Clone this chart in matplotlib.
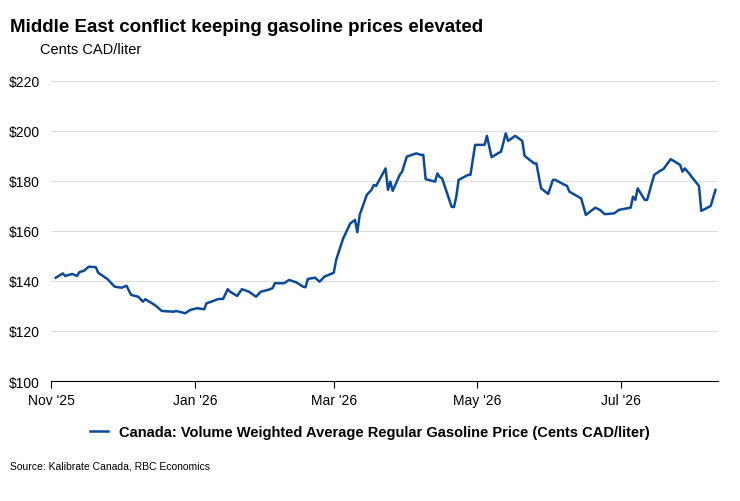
import matplotlib
matplotlib.use("Agg")
import matplotlib.pyplot as plt
import matplotlib.dates as mdates
import pandas as pd
from matplotlib.ticker import FuncFormatter

plt.rcParams['font.family'] = ['Liberation Sans', 'DejaVu Sans']

dates = ["2025-11-03","2025-11-06","2025-11-07","2025-11-10","2025-11-12","2025-11-13","2025-11-15","2025-11-17",
"2025-11-20","2025-11-21","2025-11-25","2025-11-28","2025-12-01","2025-12-03","2025-12-05","2025-12-08","2025-12-10",
"2025-12-11","2025-12-14","2025-12-16","2025-12-18","2025-12-23","2025-12-24","2025-12-28","2025-12-30","2026-01-02",
"2026-01-05","2026-01-06","2026-01-08","2026-01-11","2026-01-13","2026-01-15","2026-01-16","2026-01-19","2026-01-21",
"2026-01-24","2026-01-27","2026-01-29","2026-02-01","2026-02-03","2026-02-04","2026-02-08","2026-02-10","2026-02-13",
"2026-02-16","2026-02-17","2026-02-18","2026-02-21","2026-02-23","2026-02-25","2026-03-01","2026-03-02","2026-03-05",
"2026-03-08","2026-03-10","2026-03-11","2026-03-12","2026-03-15","2026-03-17","2026-03-18","2026-03-19","2026-03-23",
"2026-03-24","2026-03-25","2026-03-26","2026-03-29","2026-03-30","2026-04-01","2026-04-05","2026-04-07","2026-04-08",
"2026-04-09","2026-04-13","2026-04-14","2026-04-15","2026-04-16","2026-04-20","2026-04-21","2026-04-22","2026-04-23",
"2026-04-27","2026-04-28","2026-04-30","2026-05-04","2026-05-05","2026-05-07","2026-05-10","2026-05-11","2026-05-13",
"2026-05-14","2026-05-17","2026-05-20","2026-05-21","2026-05-25","2026-05-26","2026-05-28","2026-05-31","2026-06-02",
"2026-06-03","2026-06-07","2026-06-08","2026-06-09","2026-06-13","2026-06-14","2026-06-16","2026-06-20","2026-06-22",
"2026-06-24","2026-06-28","2026-06-30","2026-07-05","2026-07-06","2026-07-07","2026-07-08","2026-07-11","2026-07-12",
"2026-07-15","2026-07-17","2026-07-19","2026-07-22","2026-07-26","2026-07-27","2026-07-28","2026-07-30","2026-07-31",
"2026-08-03","2026-08-04","2026-08-08","2026-08-10"]
prices = [141.3,143.0,142.0,142.8,142.0,143.5,144.1,145.7,
145.5,143.3,140.7,137.7,137.3,138.1,134.4,133.7,131.7,
132.7,131.0,129.7,128.0,127.7,128.0,127.1,128.4,129.1,
128.7,131.1,131.7,132.8,132.8,136.7,135.7,134.0,136.7,
135.7,133.7,135.7,136.4,137.1,139.1,139.1,140.4,139.5,
137.7,137.5,140.8,141.3,139.7,141.7,143.3,148.4,157.0,
163.0,164.4,159.5,166.4,174.4,176.4,178.4,178.0,185.0,
176.4,179.7,176.0,182.4,183.7,189.7,191.0,190.4,190.4,
180.7,179.7,183.0,181.5,181.0,169.7,169.5,173.7,180.4,
182.4,182.4,194.4,194.4,198.0,189.5,191.2,191.7,199.0,
196.0,198.0,196.0,190.0,187.0,187.0,177.0,174.8,180.4,
180.4,178.4,178.0,175.7,173.5,173.0,166.4,169.3,168.4,
166.7,167.0,168.4,169.3,173.7,172.4,177.0,172.4,172.4,
182.4,183.7,184.8,188.7,186.4,183.7,185.0,182.8,181.5,
178.0,168.0,170.0,176.4]
series_label = "Canada: Volume Weighted Average Regular Gasoline Price (Cents CAD/liter)"
y_ticks = [100, 120, 140, 160, 180, 200, 220]

s = pd.Series(prices, index=pd.to_datetime(dates))

fig = plt.figure(figsize=(7.4, 5.02), dpi=100)
ax = fig.add_axes([0.069, 0.239, 0.901, 0.598])
color = "#0b4a99"
ax.plot(s.index, s.values, color=color, lw=1.8, label=series_label)
ax.set_ylim(100, 220)
ax.set_yticks(y_ticks)
ax.yaxis.set_major_formatter(FuncFormatter(lambda v, p: f"${v:.0f}"))
ax.set_xlim(pd.Timestamp("2025-11-01"), pd.Timestamp("2026-08-11"))
ax.xaxis.set_major_locator(mdates.MonthLocator(bymonth=[1, 3, 5, 7, 11]))
ax.xaxis.set_major_formatter(FuncFormatter(lambda v, p: mdates.num2date(v).strftime("%b '%y")))
ax.grid(axis='y', color='#dddddd', lw=0.8)
ax.set_axisbelow(True)
for sp in ['left', 'right', 'top']:
    ax.spines[sp].set_visible(False)
ax.spines['bottom'].set_color('black')
ax.tick_params(axis='y', length=0, labelsize=10, pad=8)
ax.tick_params(axis='x', length=5, labelsize=10, direction='out')

fig.text(0.014, 0.945, "Middle East conflict keeping gasoline prices elevated", fontsize=13.5, fontweight='bold', va='center')
fig.text(0.054, 0.9, "Cents CAD/liter", fontsize=10.5, va='center')
leg = fig.legend(loc='center', bbox_to_anchor=(0.5, 0.138), frameon=False, fontsize=10.5,
                 handlelength=1.2, prop={'weight': 'bold', 'size': 10.5})
fig.text(0.014, 0.07, "Source: Kalibrate Canada, RBC Economics", fontsize=7.5, va='center')
fig.savefig("out.png", dpi=100)
